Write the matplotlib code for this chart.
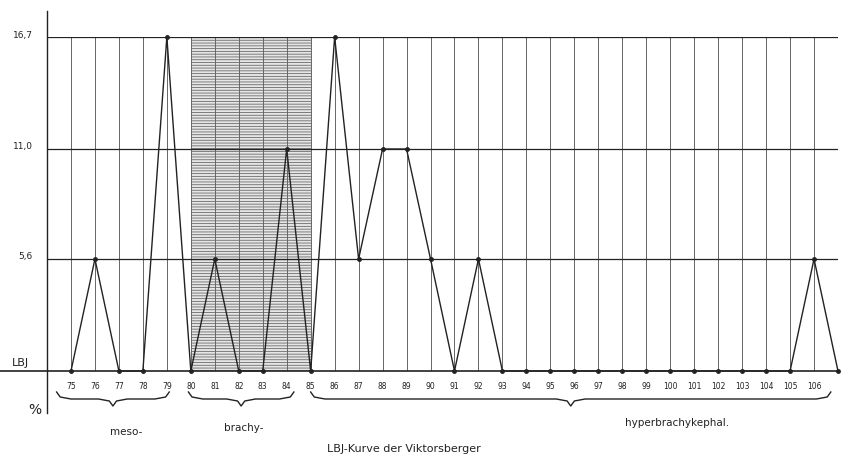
import matplotlib
matplotlib.use("Agg")
import matplotlib.pyplot as plt
import numpy as np

# ---- data ----
lbi_values = [75, 76, 77, 78, 79, 80, 81, 82, 83, 84, 85, 86, 87, 88, 89, 90,
              91, 92, 93, 94, 95, 96, 97, 98, 99, 100, 101, 102, 103, 104, 105, 106, 107]
percent = [0, 5.6, 0, 0, 16.7, 0, 5.6, 0, 0, 11.1, 0, 16.7, 5.6, 11.1, 11.1, 5.6,
           0, 5.6, 0, 0, 0, 0, 0, 0, 0, 0, 0, 0, 0, 0, 0, 5.6, 0]
tick_values = list(range(75, 107))
y_levels = [5.6, 11.1, 16.7]
y_labels = ["5,6", "11,0", "16,7"]
groups = [("meso-", 75, 79.4), ("brachy-", 80.5, 84.6), ("hyperbrachykephal.", 85.6, 107)]
brachy_span = (80, 85)

plt.rcParams['hatch.linewidth'] = 0.6
fig = plt.figure(figsize=(8.65, 4.6), dpi=100)
W, H = 865, 460
ax = fig.add_axes([47 / W, (H - 372) / H, (838 - 47) / W, (372 - 38) / H])
ax.set_xlim(74, 107)
ax.set_ylim(0, 16.7)
for s in ax.spines.values():
    s.set_visible(False)
ax.set_xticks([])
ax.set_yticks([])

ink = "#222222"
# shaded brachy region
ax.axvspan(*brachy_span, facecolor="#e6e6e6", edgecolor="#6a6a6a", hatch="------", linewidth=0, zorder=0)

# vertical grid lines
for x in range(74, 108):
    ax.plot([x, x], [0, 16.7], color="#666666", lw=0.7, zorder=1)
# horizontal grid lines
for y in y_levels:
    ax.plot([74, 107], [y, y], color=ink, lw=0.9, zorder=1)
# left axis extended
ax.plot([74, 74], [-2.1, 18.0], color=ink, lw=1.0, clip_on=False, zorder=2)
# baseline extended left
ax.plot([71.9, 107], [0, 0], color=ink, lw=1.2, clip_on=False, zorder=2)
ax.text(72.9, 0.2, "LBJ", fontsize=8, ha="center", va="bottom", color=ink)
ax.text(73.5, -1.9, "%", fontsize=10, ha="center", va="center", color=ink)

for y, lab in zip(y_levels, y_labels):
    ax.text(73.4, y + 0.15, lab, fontsize=6.5, ha="right", va="center", color=ink)

# curve
ax.plot(lbi_values, percent, color=ink, lw=1.0, marker="o", ms=2.5, zorder=3, clip_on=False)

# x tick labels
for v in tick_values:
    ax.text(v, -0.5, str(v), fontsize=5.5, ha="center", va="top", color=ink)

# braces
def brace(x0, x1, y, h=0.35):
    xm = (x0 + x1) / 2
    r = 0.6
    xs = [x0, x0 + 0.15, x0 + r, xm - r, xm - 0.15, xm, xm + 0.15, xm + r, x1 - r, x1 - 0.15, x1]
    ys = [y + h, y + 0.1, y, y, y - 0.1, y - h, y - 0.1, y, y, y + 0.1, y + h]
    ax.plot(xs, ys, color=ink, lw=1.0, clip_on=False)

for name, a, b in groups:
    brace(a - 0.6, b - 0.3, -1.4)

ax.text(77.3, -3.0, "meso-", fontsize=7.5, ha="center", va="center", color=ink)
ax.text(82.2, -2.8, "brachy-", fontsize=7.5, ha="center", va="center", color=ink)
ax.text(100.3, -2.55, "hyperbrachykephal.", fontsize=7.5, ha="center", va="center", color=ink)
ax.text(88.9, -3.85, "LBJ-Kurve der Viktorsberger", fontsize=8, ha="center", va="center", color=ink)

fig.savefig("out.png", dpi=100)
